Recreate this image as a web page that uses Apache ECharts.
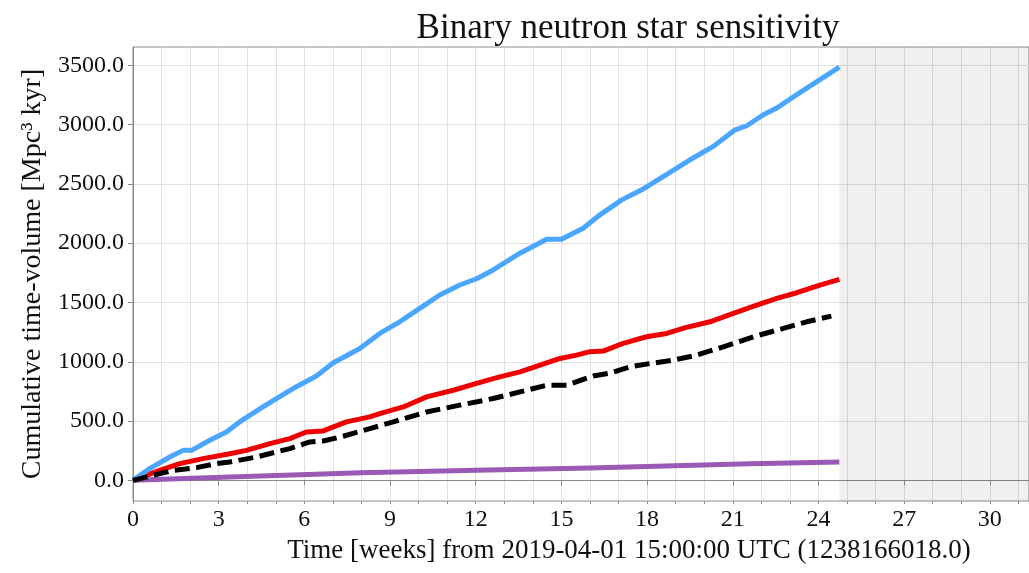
<!DOCTYPE html>
<html>
<head>
<meta charset="utf-8">
<script src="https://cdn.jsdelivr.net/npm/echarts@6/dist/echarts.min.js"></script>
<style>
  html, body { margin: 0; padding: 0; background: #ffffff; }
  #chart { width: 1029px; height: 573px; }
</style>
</head>
<body>
<div id="chart"></div>
<script>
// ---- data ----
const titleText = 'Binary neutron star sensitivity';
const xAxisTitle = 'Time [weeks] from 2019-04-01 15:00:00 UTC (1238166018.0)';
const yAxisTitle = 'Cumulative time-volume [Mpc\u00B3 kyr]';

const xMajorTicks = [0, 3, 6, 9, 12, 15, 18, 21, 24, 27, 30];
const xMinorTicks = [0,1,2,3,4,5,6,7,8,9,10,11,12,13,14,15,16,17,18,19,20,21,22,23,24,25,26,27,28,29,30,31];
const yTicks = [0, 500, 1000, 1500, 2000, 2500, 3000, 3500];
const xRange = [0, 31.37];
const yRange = [-174, 3654];
const shadeStart = 24.73;

const blueWeeks  = [0, 0.58, 1.29, 1.75, 2.05, 2.69, 3.27, 3.85, 4.55, 5.02, 5.72, 6.42, 7.0, 7.94, 8.64, 9.34, 10.04, 10.74, 11.44, 12.03, 12.61, 13.55, 14.48, 15.0, 15.76, 16.35, 17.11, 17.81, 18.56, 19.5, 20.32, 21.08, 21.49, 22.07, 22.54, 23.24, 24.05, 24.73];
const blueValues = [0, 99, 197, 253, 253, 338, 408, 513, 619, 690, 790, 880, 990, 1112, 1239, 1337, 1450, 1563, 1647, 1700, 1774, 1915, 2033, 2033, 2126, 2239, 2365, 2450, 2562, 2703, 2816, 2956, 2990, 3083, 3140, 3252, 3379, 3485];

const redWeeks  = [0, 0.93, 1.64, 2.45, 3.39, 3.97, 4.79, 5.49, 6.07, 6.66, 7.47, 8.29, 8.64, 9.46, 10.28, 11.21, 12.03, 12.84, 13.55, 14.25, 14.95, 15.53, 16.0, 16.46, 17.16, 17.98, 18.68, 19.38, 20.2, 21.02, 21.84, 22.54, 23.24, 24.05, 24.73];
const redValues = [0, 84, 141, 183, 225, 253, 310, 352, 408, 417, 493, 535, 563, 619, 704, 760, 817, 873, 915, 971, 1028, 1056, 1085, 1090, 1155, 1211, 1239, 1290, 1337, 1408, 1478, 1535, 1582, 1647, 1695];

const blackWeeks  = [0, 0.7, 1.4, 2.22, 2.92, 3.39, 4.32, 5.49, 6.19, 6.66, 7.36, 8.29, 9.11, 10.28, 11.44, 12.61, 13.55, 14.48, 15.18, 16.11, 16.7, 17.4, 18.1, 18.92, 19.74, 20.67, 21.72, 22.77, 23.59, 24.45];
const blackValues = [0, 42, 84, 107, 141, 155, 197, 268, 324, 332, 372, 436, 493, 577, 634, 690, 746, 802, 802, 880, 905, 957, 985, 1014, 1056, 1126, 1211, 1281, 1337, 1385];

const purpleWeeks  = [0, 3.4, 8, 12, 16, 21.6, 24.73];
const purpleValues = [0, 28, 65, 85, 105, 141, 155];

// ---- chart ----
const pairs = (xs, ys) => xs.map((x, i) => [x, ys[i]]);
const serif = '"Liberation Serif", "DejaVu Serif", serif';
const textColor = '#111111';
const spineColor = '#8a8a8a';
const gridColor = '#e0e0e0';

const chart = echarts.init(document.getElementById('chart'), null, { renderer: 'canvas' });

const lineSeries = (name, data, color, dash) => ({
  name, type: 'line', data, xAxisIndex: 0, yAxisIndex: 0,
  showSymbol: false, symbol: 'none', smooth: false, z: 5,
  lineStyle: { color, width: 5, type: dash ? [15, 6.5] : 'solid', cap: 'butt', join: 'round' }
});

chart.setOption({
  animation: false,
  backgroundColor: '#ffffff',
  title: {
    text: titleText, left: 628, top: 11, textAlign: 'center', padding: 0,
    textStyle: { fontFamily: serif, fontSize: 35, fontWeight: 'normal', color: textColor }
  },
  grid: { left: 133, top: 47, right: -3, bottom: 72, show: true, borderColor: spineColor, borderWidth: 1, backgroundColor: 'transparent' },
  xAxis: [{
    type: 'value', min: xRange[0], max: xRange[1], position: 'bottom',
    name: xAxisTitle, nameLocation: 'middle', nameGap: 36,
    nameTextStyle: { fontFamily: serif, fontSize: 27, color: textColor, padding: [0, 0, 0, 96] },
    axisLine: { show: true, lineStyle: { color: spineColor, width: 1 } },
    axisTick: { show: true, length: 5, inside: false, customValues: xMajorTicks, lineStyle: { color: spineColor } },
    axisLabel: { show: true, customValues: xMajorTicks, margin: 7, fontFamily: serif, fontSize: 24, color: textColor, formatter: v => String(v) },
    splitLine: { show: false }
  }, {
    type: 'value', min: xRange[0], max: xRange[1], position: 'bottom',
    axisLine: { show: false },
    axisTick: { show: true, length: 3, inside: false, customValues: xMinorTicks, lineStyle: { color: spineColor } },
    axisLabel: { show: false },
    splitLine: { show: true, lineStyle: { color: gridColor, width: 1 } }
  }],
  yAxis: {
    type: 'value', min: yRange[0], max: yRange[1],
    name: yAxisTitle, nameLocation: 'middle', nameGap: 82, nameRotate: 90,
    nameTextStyle: { fontFamily: serif, fontSize: 28, color: textColor },
    axisLine: { show: true, lineStyle: { color: spineColor, width: 1 } },
    axisTick: { show: true, length: 5, inside: false, customValues: yTicks, lineStyle: { color: spineColor } },
    axisLabel: { show: true, customValues: yTicks, margin: 9, fontFamily: serif, fontSize: 24, color: textColor, formatter: v => v.toFixed(1) },
    splitLine: { show: true, lineStyle: { color: gridColor, width: 1 } }
  },
  series: [
    {
      name: 'shade', type: 'line', data: [], xAxisIndex: 0, yAxisIndex: 0, silent: true, z: 1,
      markArea: { silent: true, itemStyle: { color: 'rgba(0,0,0,0.06)' }, data: [[{ xAxis: shadeStart }, { xAxis: xRange[1] }]] }
    },
    lineSeries('Hanford', pairs(redWeeks, redValues), '#ee0000', false),
    lineSeries('Livingston', pairs(blueWeeks, blueValues), '#4ba6ff', false),
    lineSeries('Virgo', pairs(purpleWeeks, purpleValues), '#9b59b6', false),
    lineSeries('Network', pairs(blackWeeks, blackValues), '#000000', true)
  ]
});
</script>
</body>
</html>
